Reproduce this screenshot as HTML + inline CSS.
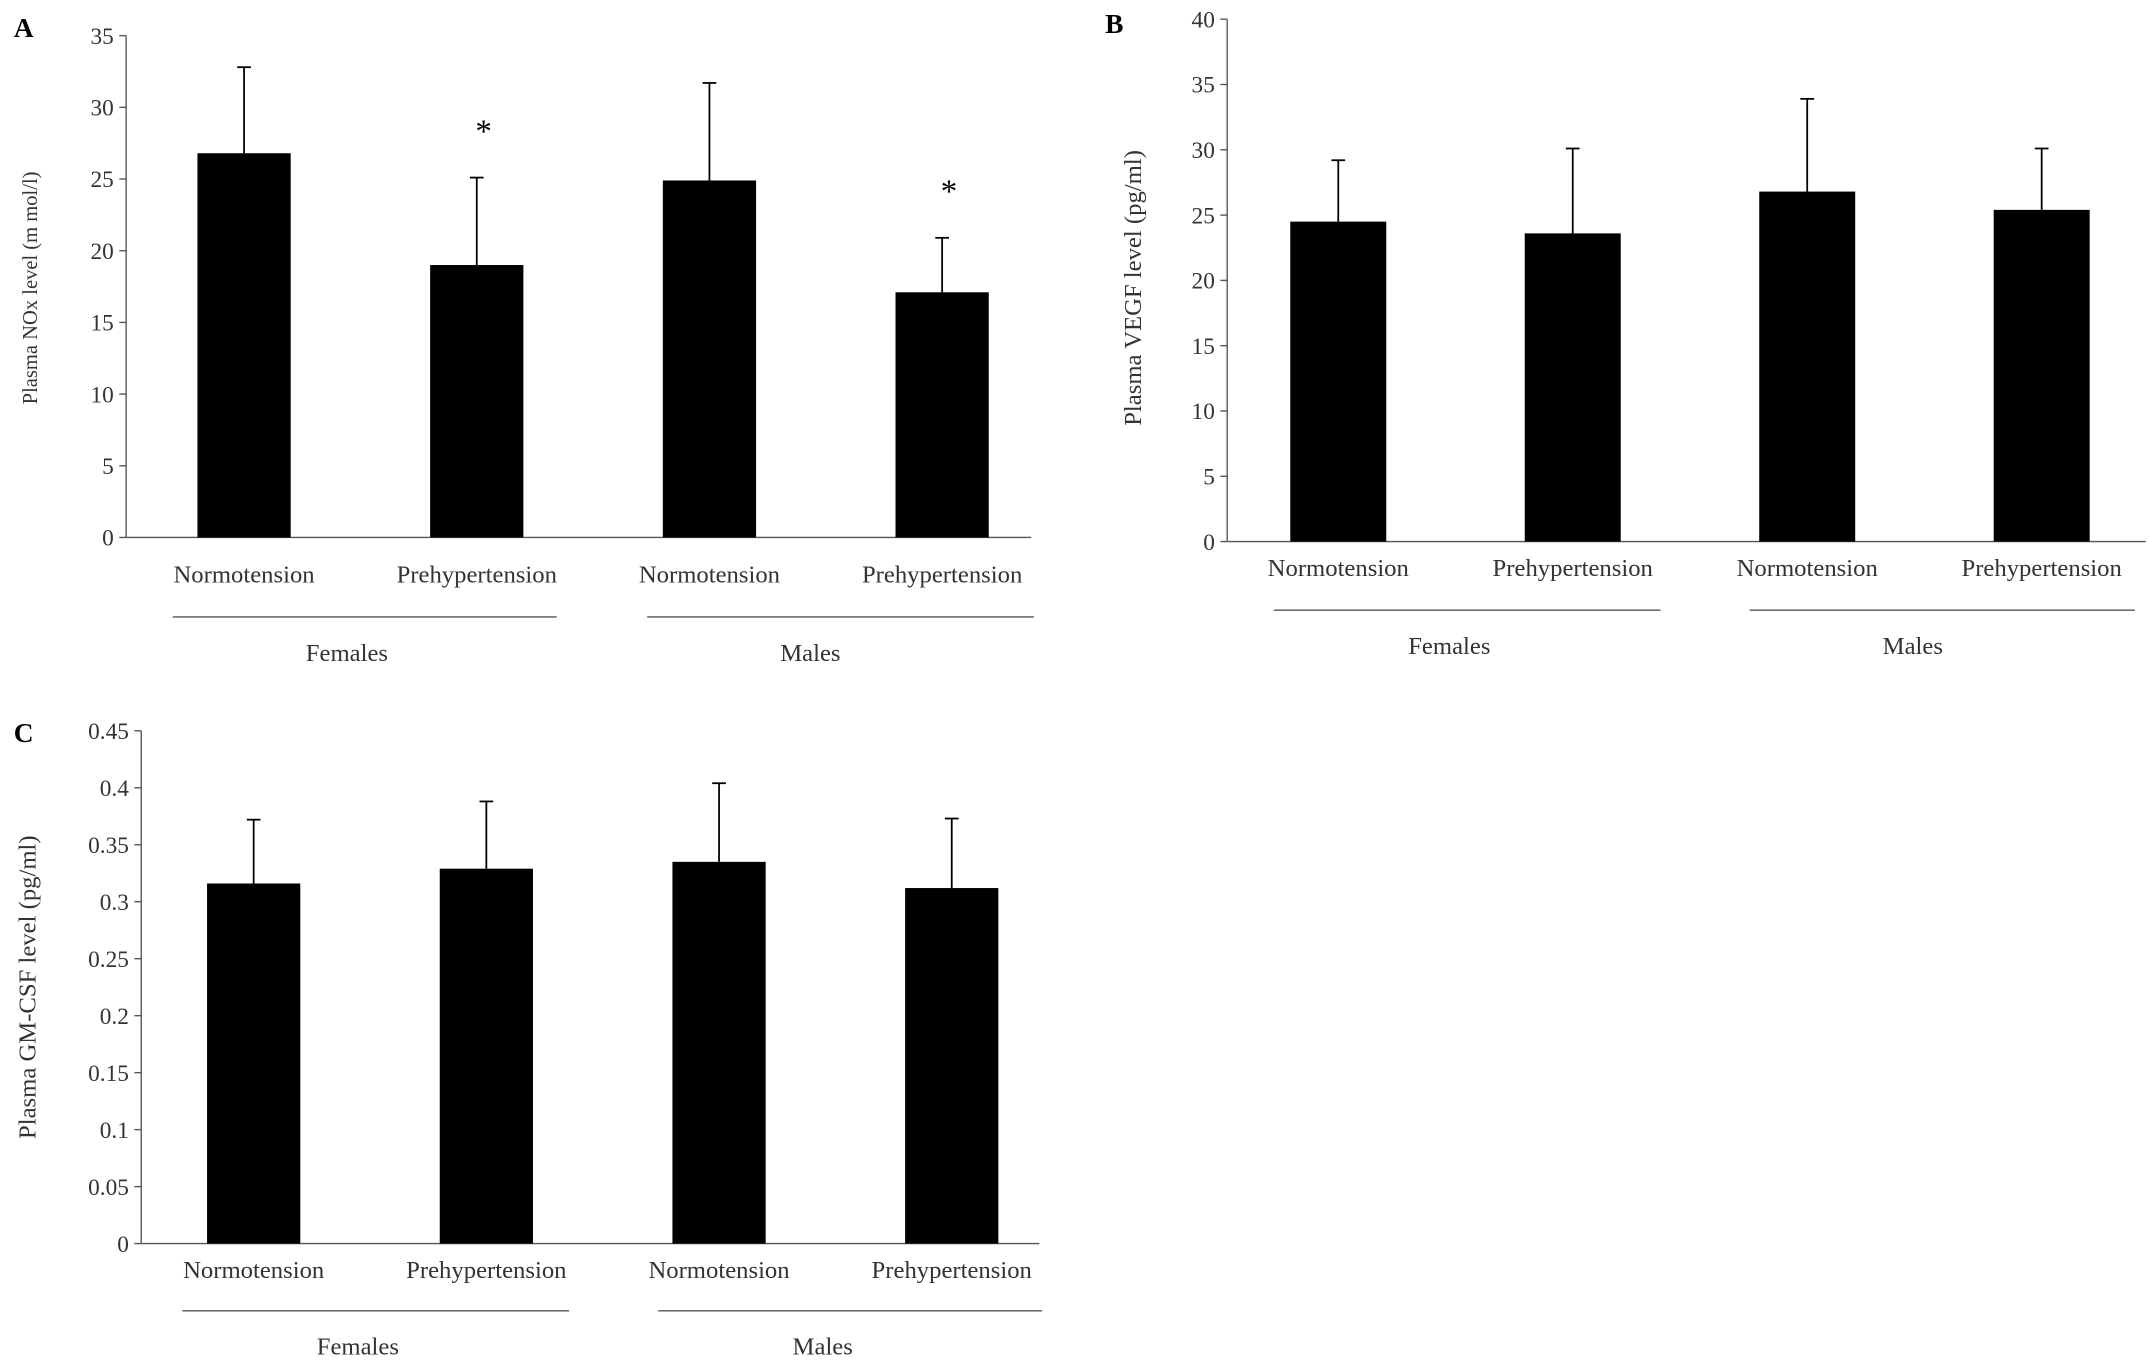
<!DOCTYPE html>
<html><head><meta charset="utf-8"><style>
html,body{margin:0;padding:0;background:#fff}
svg{display:block;font-family:"Liberation Serif",serif}
</style></head><body>
<svg id="fig" width="2150" height="1370" viewBox="0 0 1568 999.2" preserveAspectRatio="none" xmlns="http://www.w3.org/2000/svg">
<text x="10" y="27" font-size="20" font-weight="bold">A</text>
<text x="806" y="24" font-size="20" font-weight="bold">B</text>
<text x="10" y="541" font-size="20" font-weight="bold">C</text>
</svg>
<script>
const categories=["Normotension","Prehypertension","Normotension","Prehypertension"];
const groups=["Females","Males"];
const valuesA=[26.8,19.0,24.9,17.1];
const errTopA=[32.8,25.1,31.7,20.9];
const starsA=[false,true,false,true];
const ticksA=[0,5,10,15,20,25,30,35];
const valuesB=[24.5,23.6,26.8,25.4];
const errTopB=[29.2,30.1,33.9,30.1];
const ticksB=[0,5,10,15,20,25,30,35,40];
const valuesC=[0.316,0.329,0.335,0.312];
const errTopC=[0.372,0.388,0.404,0.373];
const ticksC=[0,0.05,0.1,0.15,0.2,0.25,0.3,0.35,0.4,0.45];
const tickLabelsC=["0","0.05","0.1","0.15","0.2","0.25","0.3","0.35","0.4","0.45"];

const svg=document.getElementById('fig');
const NS="http://www.w3.org/2000/svg";
function mk(tag,attrs,text){const e=document.createElementNS(NS,tag);for(const k in attrs)e.setAttribute(k,attrs[k]);if(text!==undefined)e.textContent=text;svg.appendChild(e);return e;}

function panel(p){
  const yS=v=>p.y0-(v-p.min)/(p.max-p.min)*(p.y0-p.y1);
  const xS=i=>p.x0+p.first+i*p.step;
  let a=mk('line',{x1:p.x0,y1:p.y1,x2:p.x0,y2:p.y0,stroke:'#555','stroke-width':1});
  
  a=mk('line',{x1:p.x0,y1:p.y0,x2:p.xEnd,y2:p.y0,stroke:'#555','stroke-width':1});
  
  p.ticks.forEach((t,i)=>{
    const y=yS(t);
    const tk=mk('line',{x1:p.x0-5,y1:y,x2:p.x0,y2:y,stroke:'#555','stroke-width':1});
    
    const tl=mk('text',{x:p.x0-9,y:y+6,'font-size':17,'text-anchor':'end',fill:'#333'},p.tickLabels?p.tickLabels[i]:String(t));
    
  });
  p.values.forEach((v,i)=>{
    const cx=xS(i);
    const eb=mk('line',{x1:cx,y1:yS(v),x2:cx,y2:yS(p.err[i]),stroke:'#000','stroke-width':1.3});
    
    const cap=mk('line',{x1:cx-5,y1:yS(p.err[i]),x2:cx+5,y2:yS(p.err[i]),stroke:'#000','stroke-width':1.3});
    
    const b=mk('rect',{x:cx-p.bw/2,y:yS(v),width:p.bw,height:p.y0-yS(v),fill:'#000'});
    
    if(p.stars&&p.stars[i]){
      const s=mk('text',{x:cx+5,y:yS(p.err[i])-26,'font-size':24,'text-anchor':'middle'},'*');
      
    }
    const cl=mk('text',{x:cx,y:p.catY,'font-size':18,'text-anchor':'middle',fill:'#333'},categories[i]);
    
  });
  groups.forEach((g,j)=>{
    const l=mk('line',{x1:p.gl[j][0],y1:p.gY,x2:p.gl[j][1],y2:p.gY,stroke:'#555','stroke-width':1});
    
    const t=mk('text',{x:p.gx[j],y:p.gY+32,'font-size':18,'text-anchor':'middle',fill:'#333'},g);
    
  });
  const yt=mk('text',{x:0,y:0,'font-size':p.tsz,'text-anchor':'middle',fill:'#333',transform:`translate(${p.tx},${p.ty}) rotate(-90)`},p.title);
  
}
panel({id:'panel-a',x0:92,xEnd:752,y0:392,y1:26,min:0,max:35,first:86,step:169.7,bw:68,values:valuesA,err:errTopA,stars:starsA,ticks:ticksA,catY:425,gY:450,gl:[[126,406],[472,754]],gx:[253,591],title:'Plasma NOx level (m mol/l)',tx:27,ty:210,tsz:15});
panel({id:'panel-b',x0:895,xEnd:1565,y0:395,y1:14,min:0,max:40,first:81,step:171,bw:70,values:valuesB,err:errTopB,ticks:ticksB,catY:420,gY:445,gl:[[929,1211],[1276,1557]],gx:[1057,1395],title:'Plasma VEGF level (pg/ml)',tx:832,ty:210,tsz:18});
panel({id:'panel-c',x0:103,xEnd:758,y0:907,y1:533,min:0,max:0.45,first:82,step:169.7,bw:68,values:valuesC,err:errTopC,ticks:ticksC,tickLabels:tickLabelsC,catY:932,gY:956,gl:[[133,415],[480,760]],gx:[261,600],title:'Plasma GM-CSF level (pg/ml)',tx:26,ty:720,tsz:18});
</script>
</body></html>
